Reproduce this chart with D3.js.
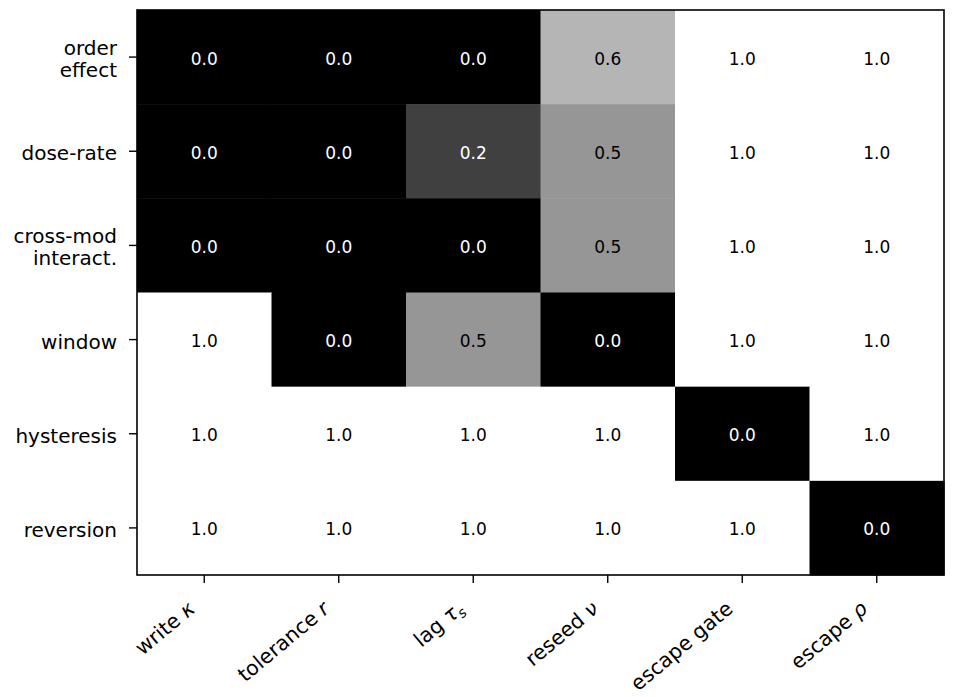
<!DOCTYPE html>
<html>
<head>
<meta charset="utf-8">
<script src="https://cdn.jsdelivr.net/npm/d3@7"></script>
<style>
  body { margin: 0; background: #fff; }
  text { font-family: "DejaVu Sans", sans-serif; }
</style>
</head>
<body>
<div id="chart"></div>
<script>
// columns: plain part, math symbol (italic) and subscript
const colNames = ["write", "tolerance", "lag", "reseed", "escape gate", "escape"];
const colSymbols = ["κ", "r", "τ", "ν", "", "ρ"];
const colSubs = ["", "", "s", "", "", ""];

const rowNames = [
    ["order", "effect"],
    ["dose-rate"],
    ["cross-mod", "interact."],
    ["window"],
    ["hysteresis"],
    ["reversion"]
];

const values = [
    [0.0, 0.0, 0.0, 0.6, 1.0, 1.0],
    [0.0, 0.0, 0.2, 0.5, 1.0, 1.0],
    [0.0, 0.0, 0.0, 0.5, 1.0, 1.0],
    [1.0, 0.0, 0.5, 0.0, 1.0, 1.0],
    [1.0, 1.0, 1.0, 1.0, 0.0, 1.0],
    [1.0, 1.0, 1.0, 1.0, 1.0, 0.0]
];

// reversed Greys colormap stops
const greyStops = ["#000000", "#252525", "#525252", "#737373", "#969696", "#bdbdbd", "#d9d9d9", "#f0f0f0", "#ffffff"];

const margin = { top: 10, right: 10, bottom: 122, left: 137 };
const width = 944 - margin.left;
const height = 575 - margin.top;

const svg = d3.select("#chart")
    .append("svg")
    .attr("width", 954)
    .attr("height", 697)
    .append("g")
    .attr("transform", `translate(${margin.left},${margin.top})`);

const x = d3.scaleBand()
    .domain(d3.range(colNames.length))
    .range([0, width]);

const y = d3.scaleBand()
    .domain(d3.range(rowNames.length))
    .range([0, height]);

const color = d3.scaleLinear()
    .domain(d3.range(greyStops.length).map(i => i / (greyStops.length - 1)))
    .range(greyStops)
    .clamp(true);

const cells = [];
values.forEach((row, r) => row.forEach((v, c) => cells.push({ r, c, v })));

// heatmap cells
svg.selectAll("rect.cell")
    .data(cells)
    .join("rect")
    .attr("class", "cell")
    .attr("x", d => x(d.c))
    .attr("y", d => y(d.r))
    .attr("width", x.bandwidth() + 0.5)
    .attr("height", y.bandwidth() + 0.5)
    .attr("fill", d => color(d.v));

// annotations
svg.selectAll("text.val")
    .data(cells)
    .join("text")
    .attr("class", "val")
    .attr("x", d => x(d.c) + x.bandwidth() / 2)
    .attr("y", d => y(d.r) + y.bandwidth() / 2 + 7.5)
    .attr("text-anchor", "middle")
    .style("font-size", "17px")
    .attr("fill", d => d.v < 0.5 ? "#ffffff" : "#000000")
    .text(d => d.v.toFixed(1));

// x axis
const xAxis = svg.append("g")
    .attr("transform", `translate(0,${height})`)
    .call(d3.axisBottom(x).tickSize(8).tickFormat(""));
xAxis.select(".domain").remove();
xAxis.selectAll(".tick line").attr("stroke", "#000").attr("stroke-width", 1.4);

xAxis.selectAll(".tick")
    .append("text")
    .attr("transform", "translate(-8,36) rotate(-40)")
    .attr("text-anchor", "end")
    .attr("fill", "#000")
    .style("font-size", "20.5px")
    .each(function (i) {
        const t = d3.select(this);
        t.append("tspan").text(colNames[i] + (colSymbols[i] ? " " : ""));
        if (colSymbols[i]) t.append("tspan").style("font-style", "italic").text(colSymbols[i]);
        if (colSubs[i]) t.append("tspan").style("font-style", "italic").style("font-size", "14px").attr("dy", 4).text(colSubs[i]);
    });

// y axis
const yAxis = svg.append("g")
    .call(d3.axisLeft(y).tickSize(8).tickFormat(""));
yAxis.select(".domain").remove();
yAxis.selectAll(".tick line").attr("stroke", "#000").attr("stroke-width", 1.4);

// one text per line so multi-line labels stack cleanly
yAxis.selectAll(".tick")
    .each(function (i) {
        const lines = rowNames[i];
        const g = d3.select(this);
        lines.forEach((ln, k) => {
            g.append("text")
                .attr("x", -20)
                .attr("y", 9 + (k - (lines.length - 1) / 2) * 22)
                .attr("text-anchor", "end")
                .attr("fill", "#000")
                .style("font-size", "20px")
                .text(ln);
        });
    });

// frame
svg.append("rect")
    .attr("width", width)
    .attr("height", height)
    .attr("fill", "none")
    .attr("stroke", "#000")
    .attr("stroke-width", 1.6);
</script>
</body>
</html>
